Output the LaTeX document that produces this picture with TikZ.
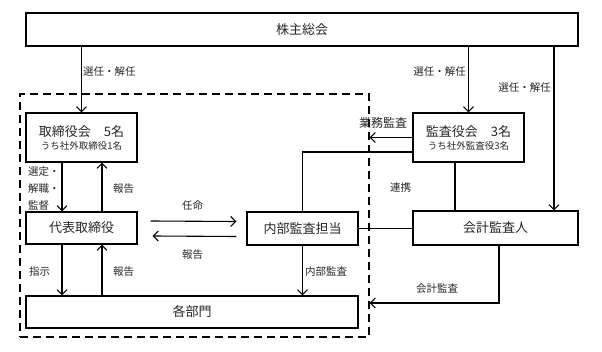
\documentclass[tikz,border=0pt]{standalone}
\usepackage{fontspec}
\setmainfont{Noto Sans CJK JP}
\usetikzlibrary{arrows.meta}

\begin{document}
\begin{tikzpicture}[x=1pt,y=-1pt,
  box/.style={draw,line width=1.1pt,inner sep=0pt,text=black!85,font=\fontsize{13}{15}\selectfont},
  lbl/.style={anchor=west,inner sep=0pt,text=black!85,font=\fontsize{10.5}{17}\selectfont},
  arr/.style={->,line width=1.1pt},
  >={Straight Barb[length=5pt,width=10pt]}]

\useasboundingbox (0,0) rectangle (602,352);

\node[draw,dashed,dash pattern=on 8pt off 5pt,line width=1.1pt,minimum width=349pt,minimum height=243pt] (grp) at (194.5,215.5) {};

\node[box,minimum width=552pt,minimum height=33pt] (kabu) at (302,29.5) {株主総会};

\node[box,minimum width=111pt,minimum height=49pt,align=center] (tori) at (81.5,137.5)
  {取締役会　5名\\[-2pt]{\fontsize{9.5}{11}\selectfont うち社外取締役1名}};

\node[box,minimum width=111pt,minimum height=49pt,align=center] (kansa) at (468.5,137.5)
  {監査役会　3名\\[-2pt]{\fontsize{9.5}{11}\selectfont うち社外監査役3名}};

\node[box,minimum width=111pt,minimum height=32pt] (daihyo) at (81.5,228) {代表取締役};

\node[box,minimum width=111pt,minimum height=33pt] (naibu) at (302.5,228.5) {内部監査担当};

\node[box,minimum width=165pt,minimum height=34pt] (kaikei) at (495.5,228) {会計監査人};

\node[box,minimum width=332pt,minimum height=32pt] (bumon) at (192,312) {各部門};

\coordinate (right) at (554,46);

\draw[arr] (kabu.south -| tori.north) -- (tori.north);
\draw[arr] (kabu.south -| kansa.north) -- (kansa.north);
\draw[arr] (right) -- (right |- kaikei.north);

\draw[arr] ([xshift=-19.5pt]tori.south) -- ([xshift=-19.5pt]daihyo.north);
\draw[arr] ([xshift=20.5pt]daihyo.north) -- ([xshift=20.5pt]tori.south);

\draw[arr] ([xshift=13pt,yshift=7pt]daihyo.east) -- ([xshift=-10pt,yshift=7pt]naibu.west);
\draw[arr] ([xshift=-10pt,yshift=-8pt]naibu.west) -- ([xshift=15pt,yshift=-8pt]daihyo.east);

\draw[arr] ([xshift=-19.5pt]daihyo.south) -- ([xshift=-19.5pt]daihyo.south |- bumon.north);
\draw[arr] ([xshift=20.5pt]daihyo.south |- bumon.north) -- ([xshift=20.5pt]daihyo.south);
\draw[arr] (naibu.south) -- (naibu.south |- bumon.north);

\draw[arr] (kansa.west) -- (kansa.west -| grp.east);
\draw[line width=1.1pt] ([yshift=-14.5pt]kansa.west) -| (naibu.north);
\draw[line width=1.1pt] ([xshift=-13.5pt]kansa.south) -- ([xshift=-13.5pt]kansa.south |- kaikei.north);
\draw[line width=1.1pt] (naibu.east) -- (naibu.east -| kaikei.west);
\draw[arr] ([xshift=3.5pt]kaikei.south) |- ([yshift=9pt]grp.east |- bumon);

\node[lbl] (sen1) at (83,72) {選任・解任};
\node[lbl,anchor=east] (sen2) at (466,72) {選任・解任};
\node[lbl,anchor=east] (sen3) at (551,88) {選任・解任};
\node[lbl,align=left] (sentei) at (28,189) {選定・\\解職・\\監督};
\node[lbl] (hou1) at (113,189) {報告};
\node[lbl] (ninmei) at (182,206) {任命};
\node[lbl] (hou2) at (182,255) {報告};
\node[lbl] (shiji) at (29,272) {指示};
\node[lbl] (hou3) at (113,272) {報告};
\node[lbl] (naikan) at (305,272) {内部監査};
\node[lbl,font=\fontsize{12}{14}\selectfont] (gyoumu) at (359,123) {業務監査};
\node[lbl] (renkei) at (390,188) {連携};
\node[lbl] (kaikan) at (416,289) {会計監査};

\end{tikzpicture}
\end{document}
